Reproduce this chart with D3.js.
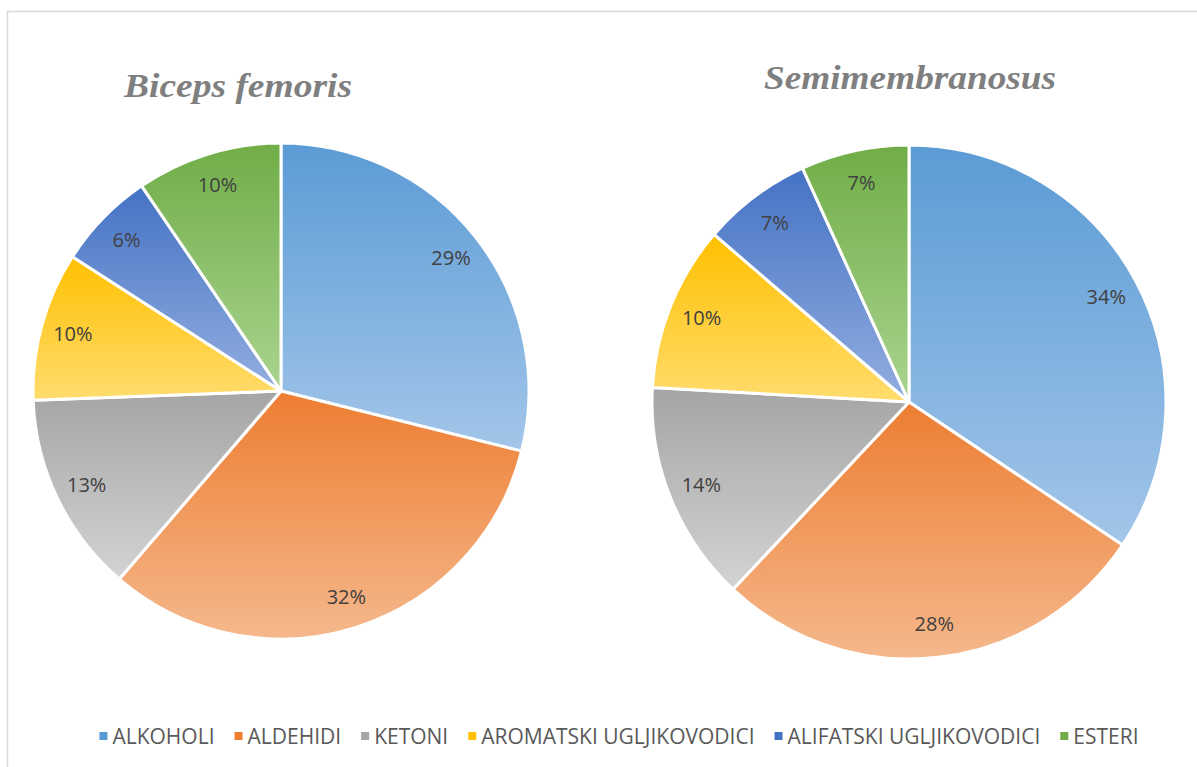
<!DOCTYPE html>
<html>
<head>
<meta charset="utf-8">
<script src="https://cdn.jsdelivr.net/npm/d3@7"></script>
<style>
  body { margin: 0; background: #fff; }
  svg { display: block; }
</style>
</head>
<body>
<div id="chart"></div>
<script>
const categories = ["ALKOHOLI", "ALDEHIDI", "KETONI", "AROMATSKI UGLJIKOVODICI", "ALIFATSKI UGLJIKOVODICI", "ESTERI"]
const bicepsValues = [28.9, 32.4, 13.1, 9.7, 6.4, 9.5]
const semiValues = [34.4, 27.6, 13.9, 10.4, 6.9, 6.8]
const titles = ["Biceps femoris", "Semimembranosus"]

// gradient stops per category: top colour, bottom colour
const topColors = ["#5b9bd5", "#ed7d31", "#a5a5a5", "#ffc000", "#4472c4", "#70ad47"]
const bottomColors = ["#a3c6e9", "#f5b88c", "#d3d3d3", "#ffdc6e", "#93aee0", "#aad490"]

const width = 1197
const height = 767

const svg = d3.select("#chart")
  .append("svg")
  .attr("width", width)
  .attr("height", height)

// frame (runs past the right/bottom edge like the cropped original)
svg.append("rect")
  .attr("x", 7.5).attr("y", 11.5)
  .attr("width", width + 20).attr("height", height + 20)
  .attr("fill", "none")
  .attr("stroke", "#d9d9d9")
  .attr("stroke-width", 1.5)

const defs = svg.append("defs")
categories.forEach((c, i) => {
  const g = defs.append("linearGradient")
    .attr("id", "grad-" + i)
    .attr("x1", 0).attr("y1", 0).attr("x2", 0).attr("y2", 1)
  g.append("stop").attr("offset", "0%").attr("stop-color", topColors[i])
  g.append("stop").attr("offset", "100%").attr("stop-color", bottomColors[i])
})

const pies = [
  { title: titles[0], values: bicepsValues, cx: 281, cy: 391, r: 248, tx: 238, ty: 97, tw: 228 },
  { title: titles[1], values: semiValues, cx: 909, cy: 402, r: 257, tx: 910, ty: 89, tw: 292 }
]

const pie = d3.pie().sort(null).value(d => d.value)

pies.forEach(p => {
  const data = categories.map((c, i) => ({ name: c, value: p.values[i], i }))
  const total = d3.sum(p.values)
  const arc = d3.arc().innerRadius(0).outerRadius(p.r)
  const labelArc = d3.arc().innerRadius(p.r * 0.87).outerRadius(p.r * 0.87)

  const g = svg.append("g").attr("transform", `translate(${p.cx},${p.cy})`)

  g.selectAll("path.slice")
    .data(pie(data))
    .enter()
    .append("path")
    .attr("class", "slice")
    .attr("d", arc)
    .attr("fill", d => `url(#grad-${d.data.i})`)
    .attr("stroke", "#fff")
    .attr("stroke-width", 3)
    .attr("stroke-linejoin", "round")

  g.selectAll("text.lbl")
    .data(pie(data))
    .enter()
    .append("text")
    .attr("class", "lbl")
    .attr("transform", d => `translate(${labelArc.centroid(d)})`)
    .attr("text-anchor", "middle")
    .attr("dy", "0.35em")
    .attr("font-family", "'Open Sans', sans-serif")
    .attr("font-size", 20)
    .attr("fill", "#404040")
    .text(d => Math.round(d.data.value / total * 100) + "%")

  svg.append("text")
    .attr("x", p.tx)
    .attr("y", p.ty)
    .attr("text-anchor", "middle")
    .attr("font-family", "'Liberation Serif', serif")
    .attr("font-style", "italic")
    .attr("font-weight", "bold")
    .attr("font-size", 34)
    .attr("fill", "#7f7f7f")
    .attr("textLength", p.tw)
    .attr("lengthAdjust", "spacingAndGlyphs")
    .text(p.title)
})

// legend
const legend = svg.append("g").attr("class", "legend")
const items = legend.selectAll("g.item")
  .data(categories)
  .enter()
  .append("g")
  .attr("class", "item")

items.append("rect")
  .attr("width", 8).attr("height", 8)
  .attr("y", -4)
  .attr("fill", (d, i) => topColors[i])

items.append("text")
  .attr("x", 13)
  .attr("dy", "0.36em")
  .attr("font-family", "'Open Sans', sans-serif")
  .attr("font-size", 21)
  .attr("fill", "#595959")
  .text(d => d)

let xPos = 0
const gap = 20
const offsets = []
items.each(function () {
  offsets.push(xPos)
  xPos += this.getBBox().width + gap
})
const totalW = xPos - gap
const startX = 619 - totalW / 2
items.attr("transform", (d, i) => `translate(${startX + offsets[i]},736)`)
</script>
</body>
</html>
